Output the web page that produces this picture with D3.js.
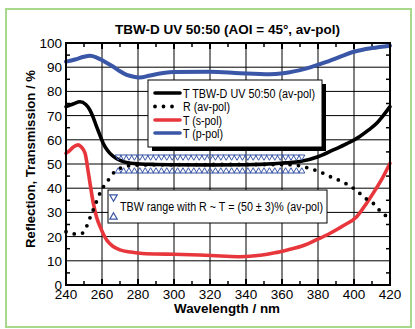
<!DOCTYPE html>
<html><head><meta charset="utf-8">
<script src="https://cdn.jsdelivr.net/npm/d3@7"></script>
<style>body{margin:0;background:#fff}svg{display:block;font-family:"Liberation Sans",Arial,sans-serif}</style>
</head><body><svg id="c" width="415" height="329"></svg>
<script>
// ---- data ----
const xTicks = [240,260,280,300,320,340,360,380,400,420];
const xMinor = [250,270,290,310,330,350,370,390,410];
const yTicks = [0,10,20,30,40,50,60,70,80,90,100];
const yMinor = [5,15,25,35,45,55,65,75,85,95];

const tAvWl  = [240,244,247.8,251,253.3,255,257,259,260.7,263,265.4,268,271.8,276,281,290,300,320,340,355,362,370,380,388.5,396,403,408,412.6,416,420];
const tAvVal = [73.7,74.8,75.7,74.6,72.3,69.5,65.4,61.6,58.5,55.7,53.7,52.3,51,50.3,50,49.8,49.7,49.6,49.7,50.1,50.5,51,53,55.8,58.4,61.3,64,66.8,69.8,73.7];

const rAvWl  = [240,245,249,251.8,253.7,256,258,260.3,263.5,267,270,275,280,300,330,360,368,371.7,377,381,386.7,394,401.5,406,410.6,414,418,420];
const rAvVal = [22,21.1,21.4,24.8,28.5,32.6,36.5,40,43.4,46.8,48.2,49.3,49.6,49.7,49.8,49.8,49.5,48.9,47.8,46.8,44.8,42.5,39,36,33.8,31,28.3,26.5];

const tSWl  = [240,242,244,246.8,248.5,250.6,252.4,255.2,257,259,262.6,266,270,276,281,290,300,314,326,337,348,356,363,372,379,387,394,401.5,407,412,416,420];
const tSVal = [54.4,55.5,57,57.9,57,54.4,46.5,33.7,28,24,18.6,16,14.5,13.6,13.1,12.8,12.7,12.4,12,11.7,12.3,13.3,14.5,16.3,18.6,21.5,24.5,28.2,33.8,39.5,44.5,50.3];

const tPWl  = [240,245,250,253.3,257,261,266.3,270,273.7,278,281,286.7,299.6,320,336.7,353,360.7,373.7,386.7,400.5,410,420];
const tPVal = [92.3,93.2,94.3,94.7,94,92.5,90.2,88.3,86.8,86,85.7,86.6,88,88.1,87.5,87.1,87.5,89.5,92.7,96.5,97.9,98.9];

const tbwWl = [269,272,275,278,281,284,287,290,293,296,299,302,305,308,311,314,317,320,323,326,329,332,335,338,341,344,347,350,353,356,359,362,365,368,371];
const tbwUpper = 53, tbwLower = 47;

const legendLabels = ["T TBW-D UV 50:50 (av-pol)","R (av-pol)","T (s-pol)","T (p-pol)"];
const title = "TBW-D UV 50:50 (AOI = 45°, av-pol)";
const xTitle = "Wavelength / nm";
const yTitle = "Reflection, Transmission / %";
const tbwLabel = "TBW range with R ~ T = (50 ± 3)% (av-pol)";

// ---- drawing ----
const BLACK="#000", RED="#e8373c", BLUE="#3a56a6";
const svg = d3.select('#c');
svg.append('rect').attr('x',6).attr('y',9).attr('width',405).attr('height',318)
  .attr('fill','none').attr('stroke','#a8d88c').attr('stroke-width',2);

const x = d3.scaleLinear().domain([240,420]).range([66,390]);
const y = d3.scaleLinear().domain([0,100]).range([285,43]);
const X0=x(240), X1=x(420), Y0=y(0), Y1=y(100);

// grid
svg.append('g').selectAll('line').data(xTicks).join('line')
  .attr('x1',d=>x(d)).attr('x2',d=>x(d)).attr('y1',Y1).attr('y2',Y0)
  .attr('stroke','#000').attr('stroke-width',1);
svg.append('g').selectAll('line').data(yTicks).join('line')
  .attr('y1',d=>y(d)).attr('y2',d=>y(d)).attr('x1',X0).attr('x2',X1)
  .attr('stroke','#000').attr('stroke-width',1);

// minor ticks
const tk = svg.append('g').attr('stroke','#000').attr('stroke-width',1.5);
xMinor.forEach(d=>{
  tk.append('line').attr('x1',x(d)).attr('x2',x(d)).attr('y1',Y0).attr('y2',Y0-4);
  tk.append('line').attr('x1',x(d)).attr('x2',x(d)).attr('y1',Y1).attr('y2',Y1+4);
});
yMinor.forEach(d=>{
  tk.append('line').attr('y1',y(d)).attr('y2',y(d)).attr('x1',X0).attr('x2',X0+4);
  tk.append('line').attr('y1',y(d)).attr('y2',y(d)).attr('x1',X1).attr('x2',X1-4);
});
const tk2 = svg.append('g').attr('stroke','#000').attr('stroke-width',2);
xTicks.forEach(d=>{
  tk2.append('line').attr('x1',x(d)).attr('x2',x(d)).attr('y1',Y0).attr('y2',Y0-6);
  tk2.append('line').attr('x1',x(d)).attr('x2',x(d)).attr('y1',Y1).attr('y2',Y1+6);
});

// curves
const line = d3.line().x(d=>x(d[0])).y(d=>y(d[1])).curve(d3.curveMonotoneX);
const zip=(a,b)=>a.map((v,i)=>[v,b[i]]);
const curves = svg.append('g').attr('fill','none').attr('stroke-linejoin','round').attr('stroke-linecap','round');
curves.append('path').attr('d',line(zip(tPWl,tPVal))).attr('stroke',BLUE).attr('stroke-width',4);
curves.append('path').attr('d',line(zip(tSWl,tSVal))).attr('stroke',RED).attr('stroke-width',3.6);
curves.append('path').attr('d',line(zip(tAvWl,tAvVal))).attr('stroke',BLACK).attr('stroke-width',3.6);
curves.append('path').attr('d',line(zip(rAvWl,rAvVal))).attr('stroke',BLACK).attr('stroke-width',3.8)
  .attr('stroke-dasharray','0 8.5');

// TBW triangles
const triSym = d3.symbol().type(d3.symbolTriangle).size(16);
const tri = svg.append('g').attr('fill','none').attr('stroke',BLUE).attr('stroke-width',1);
tri.selectAll('.dn').data(tbwWl).join('path').attr('class','dn').attr('d',triSym())
  .attr('transform',d=>`translate(${x(d)},${y(tbwUpper)}) rotate(180)`);
tri.selectAll('.up').data(tbwWl).join('path').attr('class','up').attr('d',triSym())
  .attr('transform',d=>`translate(${x(d)},${y(tbwLower)})`);

// frame
svg.append('rect').attr('x',X0).attr('y',Y1).attr('width',X1-X0).attr('height',Y0-Y1)
  .attr('fill','none').attr('stroke','#000').attr('stroke-width',2);

// axes labels
svg.append('g').selectAll('text').data(xTicks).join('text')
  .attr('x',d=>x(d)).attr('y',298.5).attr('text-anchor','middle').attr('font-size',13.5).text(d=>d);
svg.append('g').selectAll('text').data(yTicks).join('text')
  .attr('x',62).attr('y',d=>y(d)+5).attr('text-anchor','end').attr('font-size',13.5).text(d=>d);
svg.append('text').attr('x',227).attr('y',313).attr('text-anchor','middle')
  .attr('font-size',12.5).attr('font-weight','bold')
  .attr('textLength',106).attr('lengthAdjust','spacingAndGlyphs').text(xTitle);
svg.append('text').attr('transform','translate(35,159) rotate(-90)').attr('text-anchor','middle')
  .attr('font-size',12.5).attr('font-weight','bold')
  .attr('textLength',178).attr('lengthAdjust','spacingAndGlyphs').text(yTitle);
svg.append('text').attr('x',227.5).attr('y',34).attr('text-anchor','middle')
  .attr('font-size',13.5).attr('font-weight','bold')
  .attr('textLength',225).attr('lengthAdjust','spacingAndGlyphs').text(title);

// legend 1
const lg = svg.append('g');
lg.append('rect').attr('x',152).attr('y',84).attr('width',174).attr('height',67).attr('fill','#000');
lg.append('rect').attr('x',148).attr('y',80).attr('width',174).attr('height',67).attr('fill','#fff').attr('stroke','#000').attr('stroke-width',1);
const rows=[93,106.5,120,133];
const widths=[132,47,39,40];
const styles=[{c:BLACK,d:null},{c:BLACK,d:'0 8.5'},{c:RED,d:null},{c:BLUE,d:null}];
legendLabels.forEach((t,i)=>{
  const l=lg.append('line').attr('x1',155).attr('x2',180).attr('y1',rows[i]).attr('y2',rows[i])
    .attr('stroke',styles[i].c).attr('stroke-width',i===1?3.8:3.6).attr('stroke-linecap','round');
  if(styles[i].d){l.attr('stroke-dasharray',styles[i].d).attr('x1',155).attr('x2',173);}
  lg.append('text').attr('x',183).attr('y',rows[i]+4.5).attr('font-size',12)
    .attr('textLength',widths[i]).attr('lengthAdjust','spacingAndGlyphs').text(t);
});

// legend 2
const lg2 = svg.append('g');
lg2.append('rect').attr('x',108).attr('y',190).attr('width',219).attr('height',33).attr('fill','#fff').attr('stroke','#000').attr('stroke-width',1);
lg2.append('path').attr('d',d3.symbol().type(d3.symbolTriangle).size(24)()).attr('transform','translate(113.5,197) rotate(180)')
  .attr('fill','none').attr('stroke',BLUE).attr('stroke-width',1.2);
lg2.append('path').attr('d',d3.symbol().type(d3.symbolTriangle).size(24)()).attr('transform','translate(113.5,217)')
  .attr('fill','none').attr('stroke',BLUE).attr('stroke-width',1.2);
lg2.append('text').attr('x',120).attr('y',211).attr('font-size',12)
  .attr('textLength',203).attr('lengthAdjust','spacingAndGlyphs').text(tbwLabel);
</script></body></html>
